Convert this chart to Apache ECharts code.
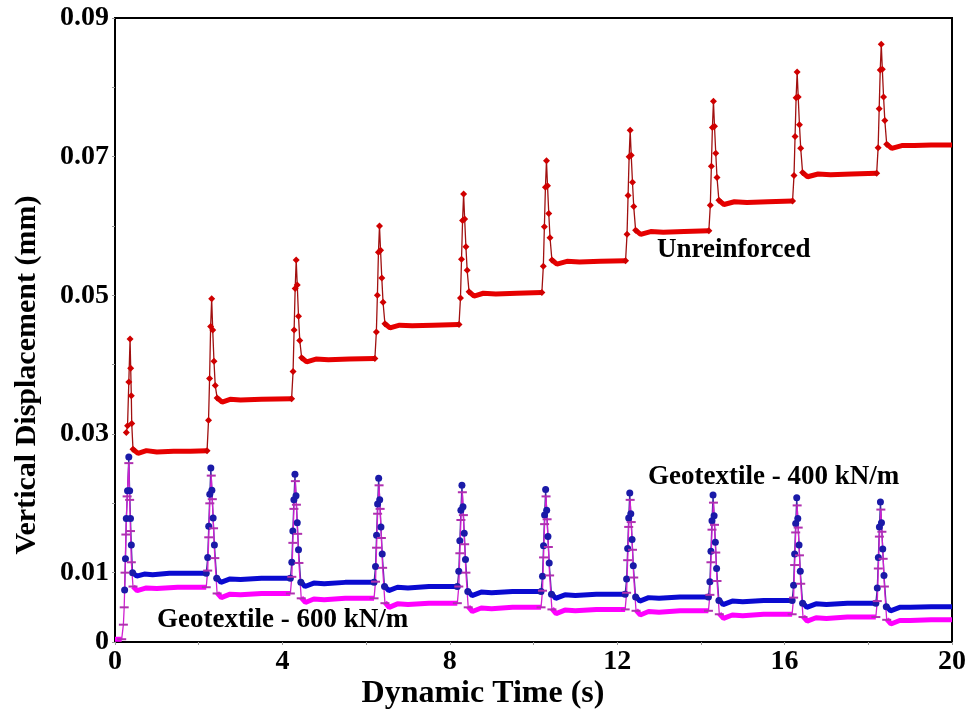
<!DOCTYPE html>
<html lang="en">
<head>
  <meta charset="UTF-8">
  <title>Vertical displacement</title>
  <style>
  html, body {
  margin: 0;
  padding: 0;
  width: 100%;
  height: 100%;
  background: #fff;
}

.main {
  width: 969px;
  height: 715px;
}
  </style>
</head>
<body>
<div class="main" id="main"></div>
<script src="https://cdn.jsdelivr.net/npm/echarts@6/dist/echarts.min.js"></script>
<script>
// spikes: [time (s), displacement (mm)] for each loading pulse
var redSpikes = [
  [[0.27, 0.0302], [0.30, 0.0312], [0.33, 0.0375], [0.36, 0.0437], [0.375, 0.0395], [0.39, 0.0355], [0.40, 0.0315], [0.43, 0.0278]],
  [[2.20, 0.0276], [2.235, 0.0320], [2.26, 0.0380], [2.285, 0.0455], [2.31, 0.0495], [2.335, 0.0450], [2.365, 0.0405], [2.395, 0.0370], [2.44, 0.0352]],
  [[4.22, 0.0351], [4.255, 0.0390], [4.28, 0.0450], [4.305, 0.0510], [4.33, 0.0551], [4.355, 0.0515], [4.385, 0.0470], [4.415, 0.0435], [4.46, 0.0410]],
  [[6.21, 0.0409], [6.245, 0.0447], [6.27, 0.0500], [6.295, 0.0562], [6.32, 0.0600], [6.345, 0.0565], [6.375, 0.0525], [6.405, 0.0490], [6.45, 0.0459]],
  [[8.22, 0.0458], [8.255, 0.0496], [8.28, 0.0552], [8.305, 0.0608], [8.33, 0.0646], [8.355, 0.0610], [8.385, 0.0570], [8.415, 0.0536], [8.46, 0.0505]],
  [[10.20, 0.0504], [10.235, 0.0542], [10.26, 0.0599], [10.285, 0.0656], [10.31, 0.0694], [10.335, 0.0658], [10.365, 0.0618], [10.395, 0.0583], [10.44, 0.0551]],
  [[12.20, 0.0550], [12.235, 0.0588], [12.26, 0.0644], [12.285, 0.0700], [12.31, 0.0738], [12.335, 0.0702], [12.365, 0.0663], [12.395, 0.0628], [12.44, 0.0594]],
  [[14.19, 0.0593], [14.225, 0.0630], [14.25, 0.0686], [14.275, 0.0742], [14.30, 0.0780], [14.325, 0.0744], [14.355, 0.0705], [14.385, 0.0670], [14.43, 0.0637]],
  [[16.19, 0.0636], [16.225, 0.0673], [16.25, 0.0729], [16.275, 0.0785], [16.30, 0.0822], [16.325, 0.0786], [16.355, 0.0746], [16.385, 0.0712], [16.43, 0.0677]],
  [[18.20, 0.0676], [18.235, 0.0713], [18.26, 0.0769], [18.285, 0.0825], [18.31, 0.0862], [18.335, 0.0826], [18.365, 0.0786], [18.395, 0.0752], [18.44, 0.0718]]
];

// plateaus between pulses
var redSteps = [
  [[0.43, 0.0278], [0.55, 0.0272], [0.75, 0.0276], [1.0, 0.0274], [1.4, 0.0275], [1.8, 0.0275], [2.20, 0.0276]],
  [[2.44, 0.0352], [2.56, 0.0346], [2.75, 0.0350], [3.0, 0.0349], [3.5, 0.0350], [4.22, 0.0351]],
  [[4.46, 0.0410], [4.58, 0.0404], [4.8, 0.0408], [5.1, 0.0407], [5.6, 0.0408], [6.21, 0.0409]],
  [[6.45, 0.0459], [6.57, 0.0453], [6.8, 0.0457], [7.1, 0.0456], [7.6, 0.0457], [8.22, 0.0458]],
  [[8.46, 0.0505], [8.58, 0.0499], [8.8, 0.0503], [9.1, 0.0502], [9.6, 0.0503], [10.20, 0.0504]],
  [[10.44, 0.0551], [10.56, 0.0545], [10.8, 0.0549], [11.1, 0.0548], [11.6, 0.0549], [12.20, 0.0550]],
  [[12.44, 0.0594], [12.56, 0.0588], [12.8, 0.0592], [13.1, 0.0591], [13.6, 0.0592], [14.19, 0.0593]],
  [[14.43, 0.0637], [14.55, 0.0631], [14.8, 0.0635], [15.1, 0.0634], [15.6, 0.0635], [16.19, 0.0636]],
  [[16.43, 0.0677], [16.55, 0.0671], [16.8, 0.0675], [17.1, 0.0674], [17.6, 0.0675], [18.20, 0.0676]],
  [[18.44, 0.0718], [18.56, 0.0712], [18.8, 0.0716], [19.1, 0.0716], [19.5, 0.0717], [20, 0.0717]]
];

var blueSpikes = [
  [[0.23, 0.0075], [0.25, 0.0120], [0.27, 0.0178], [0.30, 0.0218], [0.33, 0.0267], [0.35, 0.0218], [0.37, 0.0178], [0.39, 0.0140], [0.42, 0.0100]],
  [[2.18, 0.0099], [2.215, 0.0122], [2.24, 0.0167], [2.265, 0.0213], [2.29, 0.0251], [2.315, 0.0219], [2.345, 0.0179], [2.375, 0.0140], [2.43, 0.0092]],
  [[4.19, 0.0092], [4.225, 0.0115], [4.25, 0.0160], [4.275, 0.0205], [4.30, 0.0242], [4.325, 0.0211], [4.355, 0.0172], [4.385, 0.0133], [4.44, 0.0086]],
  [[6.19, 0.0086], [6.225, 0.0109], [6.25, 0.0154], [6.275, 0.0199], [6.30, 0.0236], [6.325, 0.0205], [6.355, 0.0166], [6.385, 0.0127], [6.44, 0.0080]],
  [[8.18, 0.0080], [8.215, 0.0102], [8.24, 0.0146], [8.265, 0.0190], [8.29, 0.0226], [8.315, 0.0195], [8.345, 0.0157], [8.375, 0.0119], [8.43, 0.0073]],
  [[10.18, 0.0073], [10.215, 0.0095], [10.24, 0.0139], [10.265, 0.0183], [10.29, 0.0220], [10.315, 0.0190], [10.345, 0.0152], [10.375, 0.0114], [10.43, 0.0069]],
  [[12.19, 0.0069], [12.225, 0.0091], [12.25, 0.0135], [12.275, 0.0179], [12.30, 0.0215], [12.325, 0.0185], [12.355, 0.0148], [12.385, 0.0110], [12.44, 0.0065]],
  [[14.18, 0.0065], [14.215, 0.0087], [14.24, 0.0131], [14.265, 0.0175], [14.29, 0.0212], [14.315, 0.0182], [14.345, 0.0144], [14.375, 0.0106], [14.43, 0.0060]],
  [[16.18, 0.0060], [16.215, 0.0082], [16.24, 0.0127], [16.265, 0.0171], [16.29, 0.0208], [16.315, 0.0178], [16.345, 0.0140], [16.375, 0.0102], [16.43, 0.0056]],
  [[18.18, 0.0056], [18.215, 0.0078], [18.24, 0.0122], [18.265, 0.0166], [18.29, 0.0202], [18.315, 0.0172], [18.345, 0.0134], [18.375, 0.0096], [18.43, 0.0051]]
];

var blueSteps = [
  [[0.42, 0.0100], [0.52, 0.0095], [0.7, 0.0098], [0.9, 0.0097], [1.3, 0.0099], [1.8, 0.0099], [2.18, 0.0099]],
  [[2.43, 0.0093], [2.53, 0.0086], [2.75, 0.0091], [3.0, 0.0090], [3.5, 0.0092], [4.19, 0.0092]],
  [[4.44, 0.0087], [4.54, 0.0080], [4.75, 0.0085], [5.0, 0.0084], [5.5, 0.0086], [6.19, 0.0086]],
  [[6.44, 0.0081], [6.54, 0.0074], [6.75, 0.0079], [7.0, 0.0078], [7.5, 0.0080], [8.18, 0.0080]],
  [[8.43, 0.0074], [8.53, 0.0067], [8.75, 0.0072], [9.0, 0.0071], [9.5, 0.0073], [10.18, 0.0073]],
  [[10.43, 0.0070], [10.53, 0.0063], [10.75, 0.0068], [11.0, 0.0067], [11.5, 0.0069], [12.19, 0.0069]],
  [[12.44, 0.0066], [12.54, 0.0059], [12.75, 0.0064], [13.0, 0.0063], [13.5, 0.0065], [14.18, 0.0065]],
  [[14.43, 0.0061], [14.53, 0.0054], [14.75, 0.0059], [15.0, 0.0058], [15.5, 0.0060], [16.18, 0.0060]],
  [[16.43, 0.0057], [16.53, 0.0050], [16.75, 0.0055], [17.0, 0.0054], [17.5, 0.0056], [18.18, 0.0056]],
  [[18.43, 0.0052], [18.53, 0.0045], [18.75, 0.0050], [19.0, 0.0050], [19.5, 0.0051], [20, 0.0051]]
];

var pinkSpikes = [
  [[0.16, 0.0004], [0.20, 0.0025], [0.22, 0.0050], [0.24, 0.0100], [0.26, 0.0155], [0.29, 0.0210], [0.33, 0.0258], [0.35, 0.0205], [0.37, 0.0160], [0.39, 0.0115], [0.43, 0.0080]],
  [[2.18, 0.0079], [2.215, 0.0103], [2.24, 0.0151], [2.265, 0.0200], [2.30, 0.0240], [2.325, 0.0206], [2.355, 0.0164], [2.385, 0.0121], [2.44, 0.0070]],
  [[4.19, 0.0070], [4.225, 0.0094], [4.25, 0.0143], [4.275, 0.0192], [4.31, 0.0232], [4.335, 0.0198], [4.365, 0.0156], [4.395, 0.0114], [4.45, 0.0063]],
  [[6.19, 0.0063], [6.225, 0.0087], [6.25, 0.0136], [6.275, 0.0185], [6.31, 0.0226], [6.335, 0.0192], [6.365, 0.0150], [6.395, 0.0107], [6.45, 0.0056]],
  [[8.18, 0.0056], [8.215, 0.0080], [8.24, 0.0128], [8.265, 0.0176], [8.30, 0.0216], [8.325, 0.0183], [8.355, 0.0141], [8.385, 0.0100], [8.44, 0.0050]],
  [[10.18, 0.0050], [10.215, 0.0074], [10.24, 0.0122], [10.265, 0.0170], [10.30, 0.0210], [10.325, 0.0177], [10.355, 0.0137], [10.385, 0.0096], [10.44, 0.0047]],
  [[12.19, 0.0047], [12.225, 0.0071], [12.25, 0.0118], [12.275, 0.0166], [12.31, 0.0205], [12.335, 0.0173], [12.365, 0.0133], [12.395, 0.0093], [12.45, 0.0045]],
  [[14.18, 0.0045], [14.215, 0.0068], [14.24, 0.0115], [14.265, 0.0162], [14.30, 0.0201], [14.325, 0.0169], [14.355, 0.0129], [14.385, 0.0088], [14.44, 0.0040]],
  [[16.18, 0.0040], [16.215, 0.0064], [16.24, 0.0111], [16.265, 0.0158], [16.30, 0.0197], [16.325, 0.0165], [16.355, 0.0125], [16.385, 0.0084], [16.44, 0.0036]],
  [[18.18, 0.0036], [18.215, 0.0059], [18.24, 0.0106], [18.265, 0.0152], [18.30, 0.0191], [18.325, 0.0159], [18.355, 0.0120], [18.385, 0.0080], [18.44, 0.0032]]
];

var pinkSteps = [
  [[0, 0.0004], [0.16, 0.0004]],
  [[0.43, 0.0080], [0.53, 0.0074], [0.75, 0.0078], [1.0, 0.0077], [1.5, 0.0079], [2.18, 0.0079]],
  [[2.44, 0.0071], [2.54, 0.0064], [2.75, 0.0069], [3.0, 0.0068], [3.5, 0.0070], [4.19, 0.0070]],
  [[4.45, 0.0064], [4.55, 0.0057], [4.75, 0.0062], [5.0, 0.0061], [5.5, 0.0063], [6.19, 0.0063]],
  [[6.45, 0.0057], [6.55, 0.0050], [6.75, 0.0055], [7.0, 0.0054], [7.5, 0.0056], [8.18, 0.0056]],
  [[8.44, 0.0051], [8.54, 0.0044], [8.75, 0.0049], [9.0, 0.0048], [9.5, 0.0050], [10.18, 0.0050]],
  [[10.44, 0.0048], [10.54, 0.0041], [10.75, 0.0046], [11.0, 0.0045], [11.5, 0.0047], [12.19, 0.0047]],
  [[12.45, 0.0046], [12.55, 0.0039], [12.75, 0.0044], [13.0, 0.0043], [13.5, 0.0045], [14.18, 0.0045]],
  [[14.44, 0.0041], [14.54, 0.0034], [14.75, 0.0039], [15.0, 0.0038], [15.5, 0.0040], [16.18, 0.0040]],
  [[16.44, 0.0037], [16.54, 0.0030], [16.75, 0.0035], [17.0, 0.0034], [17.5, 0.0036], [18.18, 0.0036]],
  [[18.44, 0.0033], [18.54, 0.0026], [18.75, 0.0031], [19.0, 0.0031], [19.5, 0.0032], [20, 0.0032]]
];

var seriesLabels = ['Unreinforced', 'Geotextile - 400 kN/m', 'Geotextile - 600 kN/m'];
var xTitle = 'Dynamic Time (s)';
var yTitle = 'Vertical Displacement (mm)';

var FONT = '"Liberation Serif", "Times New Roman", serif';

// join segments with a gap so the line breaks between them
function joinSegments(segs) {
  var out = [];
  segs.forEach(function(s, i) {
    if (i > 0) out.push([s[0][0], '-']);
    out = out.concat(s);
  });
  return out;
}

function stepSeries(name, data, color) {
  return {
    name: name,
    type: 'line',
    data: joinSegments(data),
    showSymbol: false,
    symbol: 'none',
    connectNulls: false,
    silent: true,
    lineStyle: { color: color, width: 5 },
    animation: false
  };
}

function spikeSeries(name, data, lineColor, symbol, size, symColor) {
  return {
    name: name,
    type: 'line',
    data: joinSegments(data),
    symbol: symbol,
    symbolSize: size,
    showAllSymbol: true,
    connectNulls: false,
    silent: true,
    lineStyle: { color: lineColor, width: 1.3 },
    itemStyle: { color: symColor },
    animation: false
  };
}

var chart = echarts.init(document.getElementById('main'));

var option = {
  backgroundColor: '#fff',
  grid: {
    left: 115, right: 16, top: 18, bottom: 73,
    show: true, borderColor: '#000', borderWidth: 2
  },
  xAxis: {
    type: 'value',
    min: 0, max: 20, interval: 2,
    axisLine: { lineStyle: { color: '#000', width: 2 } },
    axisTick: { show: true, length: 3, lineStyle: { color: '#999' } },
    splitLine: { show: false },
    axisLabel: {
      color: '#000', fontFamily: FONT, fontWeight: 'bold', fontSize: 28, margin: 6,
      formatter: function(v) { return v % 4 === 0 ? String(v) : ''; }
    }
  },
  yAxis: {
    type: 'value',
    min: 0, max: 0.09, interval: 0.01,
    axisLine: { show: true, lineStyle: { color: '#000', width: 2 } },
    axisTick: { show: true, length: 3, lineStyle: { color: '#999' } },
    splitLine: { show: false },
    axisLabel: {
      color: '#000', fontFamily: FONT, fontWeight: 'bold', fontSize: 28, margin: 6,
      formatter: function(v) {
        var n = Math.round(v * 100);
        if (n === 0) return '0';
        return n % 2 === 1 ? v.toFixed(2) : '';
      }
    }
  },
  graphic: [
    { type: 'text', left: 657, top: 237, style: { text: seriesLabels[0], font: 'bold 27px ' + FONT, fill: '#000' } },
    { type: 'text', left: 648, top: 464, style: { text: seriesLabels[1], font: 'bold 27px ' + FONT, fill: '#000' } },
    { type: 'text', left: 157, top: 607, style: { text: seriesLabels[2], font: 'bold 27px ' + FONT, fill: '#000' } },
    { type: 'text', x: 483, y: 694, style: { text: xTitle, font: 'bold 32px ' + FONT, fill: '#000', align: 'center', verticalAlign: 'middle' } },
    { type: 'text', x: 27, y: 375, rotation: Math.PI / 2, style: { text: yTitle, font: 'bold 30px ' + FONT, fill: '#000', align: 'center', verticalAlign: 'middle' } }
  ],
  series: [
    stepSeries(seriesLabels[0], redSteps, '#e60000'),
    spikeSeries(seriesLabels[0], redSpikes, '#a01010', 'diamond', 7, '#d00000'),
    stepSeries(seriesLabels[1], blueSteps, '#0a0ad0'),
    stepSeries(seriesLabels[2], pinkSteps, '#ff00ff'),
    spikeSeries(seriesLabels[1], blueSpikes, '#3a2aa0', 'circle', 7, '#1a1aa8'),
    spikeSeries(seriesLabels[2], pinkSpikes, '#d020d0', 'rect', [9, 2], '#b030b0')
  ]
};

chart.setOption(option);
</script>
</body>
</html>
